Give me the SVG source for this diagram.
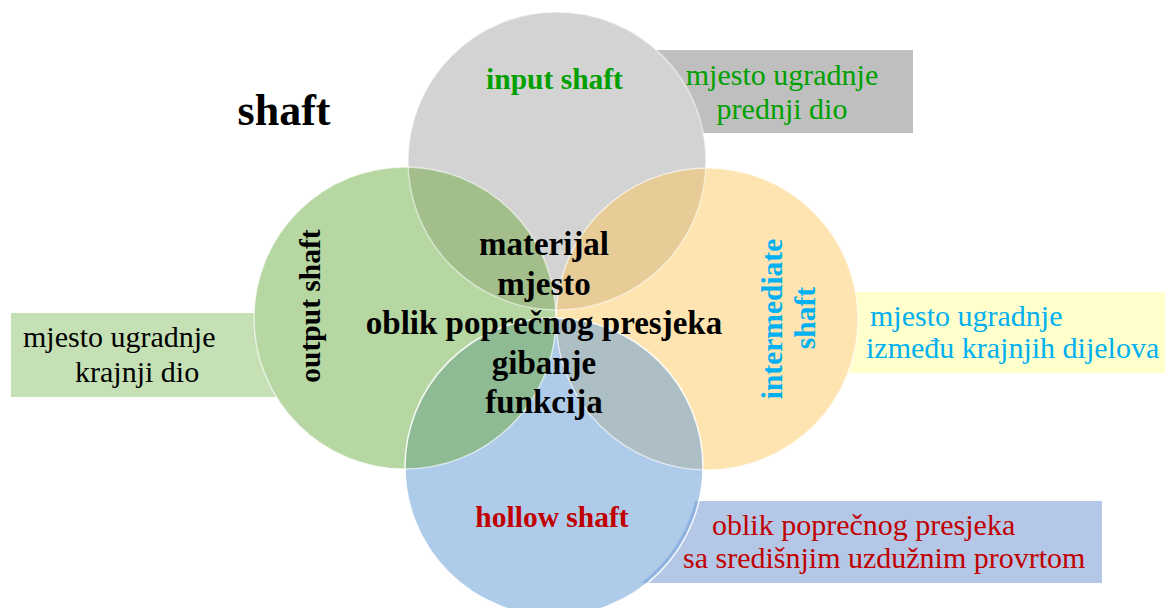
<svg xmlns="http://www.w3.org/2000/svg" width="1165" height="608" viewBox="0 0 1165 608">
<style>
.lbl{font-family:"Liberation Serif","Times New Roman",serif;font-weight:bold;font-size:29.5px}
.call{font-family:"Liberation Serif","Times New Roman",serif;font-weight:normal;font-size:30px}
.ctr{font-family:"Liberation Serif","Times New Roman",serif;font-weight:bold;font-size:33px;fill:#000;text-anchor:middle}
.edge{fill:none;stroke:#fff;stroke-width:1.5}
</style>
<defs>
<clipPath id="cTop"><circle cx="557" cy="161" r="149"/></clipPath>
<clipPath id="cBot"><circle cx="554" cy="467" r="149"/></clipPath>
</defs>
<rect width="1165" height="608" fill="#fff"/>

<g id="title">
<text x="284" y="125" font-family="Liberation Serif, Times New Roman, serif" font-weight="bold" font-size="44" text-anchor="middle" fill="#000">shaft</text>
</g>

<g id="input-shaft">
<rect x="630" y="50" width="283" height="83" fill="#bfbfbf"/>
<circle cx="557" cy="161" r="149" fill="#d3d3d3"/>
<text class="lbl" x="554.5" y="89" text-anchor="middle" fill="#00a000">input shaft</text>
<text class="call" x="782" y="85" text-anchor="middle" fill="#00a000">mjesto ugradnje</text>
<text class="call" x="782" y="119" text-anchor="middle" fill="#00a000">prednji dio</text>
</g>

<g id="output-shaft">
<rect x="11" y="313" width="300" height="84" fill="#c5e0b4"/>
<circle cx="405" cy="318" r="151" fill="#b6d6a2"/>
<text class="lbl" transform="translate(320,306) rotate(-90)" text-anchor="middle" fill="#000">output shaft</text>
<text class="call" x="23" y="347" fill="#000">mjesto ugradnje</text>
<text class="call" x="75" y="382" fill="#000">krajnji dio</text>
</g>

<g id="intermediate-shaft">
<rect x="820" y="292" width="345" height="81" fill="#ffffcc"/>
<circle cx="707" cy="319" r="151" fill="#fee4b1"/>
<text class="lbl" transform="translate(782,319) rotate(-90)" text-anchor="middle" fill="#00b0f0">intermediate</text>
<text class="lbl" transform="translate(815,318) rotate(-90)" text-anchor="middle" fill="#00b0f0">shaft</text>
<text class="call" x="870" y="326" fill="#00b0f0">mjesto ugradnje</text>
<text class="call" x="866" y="358" fill="#00b0f0">između krajnjih dijelova</text>
</g>

<g id="hollow-shaft">
<path d="M695,501 L1102,501 L1102,583 L641,583 A145,145 0 0 0 695,501 Z" fill="#b4c7e7"/>
<circle cx="554" cy="467" r="149" fill="#aecbea"/>
<path d="M695,501 L1102,501 L1102,583 L641,583 A145,145 0 0 0 695,501 Z" fill="#8fb3e1" clip-path="url(#cBot)"/>
<text class="lbl" x="552" y="527" text-anchor="middle" fill="#c00000">hollow shaft</text>
<text class="call" x="712" y="535" fill="#c00000">oblik poprečnog presjeka</text>
<text class="call" x="683" y="568" fill="#c00000">sa središnjim uzdužnim provrtom</text>
</g>

<g id="overlaps">
<circle cx="405" cy="318" r="151" fill="#a2bf8b" clip-path="url(#cTop)"/>
<circle cx="707" cy="319" r="151" fill="#e8cc98" clip-path="url(#cTop)"/>
<circle cx="405" cy="318" r="151" fill="#8ebb94" clip-path="url(#cBot)"/>
<circle cx="707" cy="319" r="151" fill="#adbfc4" clip-path="url(#cBot)"/>
<circle class="edge" cx="557" cy="161" r="149" opacity="0.5"/>
<circle class="edge" cx="405" cy="318" r="151" opacity="0.6"/>
<circle class="edge" cx="707" cy="319" r="151" opacity="0.6"/>
<circle class="edge" cx="554" cy="467" r="149" opacity="0.9"/>
</g>

<g id="connectors"/>

<g id="center">
<text class="ctr" x="544" y="255">materijal</text>
<text class="ctr" x="544" y="294.5">mjesto</text>
<text class="ctr" x="544" y="334">oblik poprečnog presjeka</text>
<text class="ctr" x="544" y="373.5">gibanje</text>
<text class="ctr" x="544" y="413">funkcija</text>
</g>
</svg>
